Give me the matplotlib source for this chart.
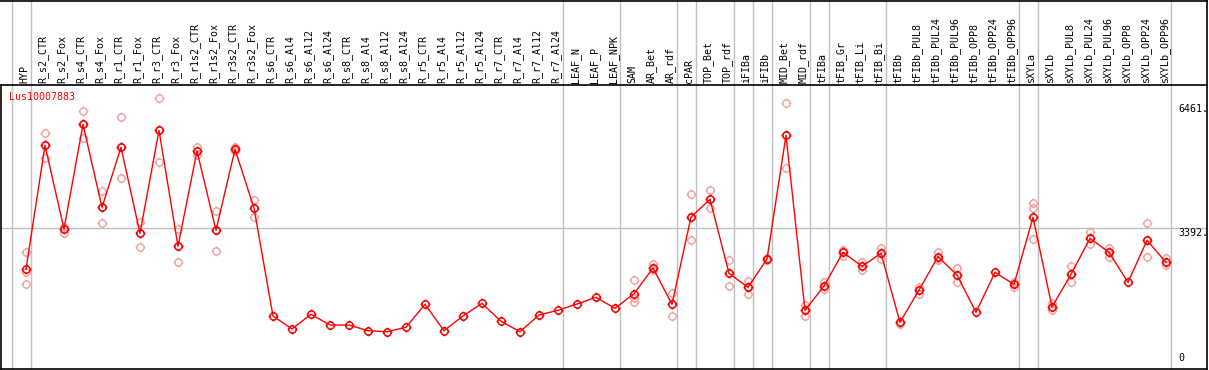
import numpy as np
import matplotlib.pyplot as plt
from matplotlib.path import Path
from matplotlib.transforms import blended_transform_factory

nan = np.nan

gene = "Lus10007883"

samples = ["HYP", "R_s2_CTR", "R_s2_Fox", "R_s4_CTR", "R_s4_Fox", "R_r1_CTR", "R_r1_Fox",
           "R_r3_CTR", "R_r3_Fox", "R_r1s2_CTR", "R_r1s2_Fox", "R_r3s2_CTR", "R_r3s2_Fox",
           "R_s6_CTR", "R_s6_Al4", "R_s6_Al12", "R_s6_Al24", "R_s8_CTR", "R_s8_Al4",
           "R_s8_Al12", "R_s8_Al24", "R_r5_CTR", "R_r5_Al4", "R_r5_Al12", "R_r5_Al24",
           "R_r7_CTR", "R_r7_Al4", "R_r7_Al12", "R_r7_Al24", "LEAF_N", "LEAF_P", "LEAF_NPK",
           "SAM", "AR_Bet", "AR_rdf", "cPAR", "TOP_Bet", "TOP_rdf", "iFIBa", "iFIBb",
           "MID_Bet", "MID_rdf", "tFIBa", "tFIB_Gr", "tFIB_Li", "tFIB_Bi", "tFIBb",
           "tFIBb_PUL8", "tFIBb_PUL24", "tFIBb_PUL96", "tFIBb_OPP8", "tFIBb_OPP24",
           "tFIBb_OPP96", "sXYLa", "sXYLb", "sXYLb_PUL8", "sXYLb_PUL24", "sXYLb_PUL96",
           "sXYLb_OPP8", "sXYLb_OPP24", "sXYLb_OPP96"]

# mean expression
means = [2369, 5438, 3366, 5957, 3903, 5388, 3260, 5809, 2938, 5297, 3334, 5339, 3886,
         1213, 891, 1255, 990, 990, 849, 824, 933, 1502, 849, 1213, 1527, 1082, 824, 1238,
         1354, 1510, 1676, 1403, 1765, 2401, 1502, 3663, 4101, 2270, 1923, 2624, 5685, 1354,
         1955, 2789, 2443, 2765, 1057, 1856, 2680, 2228, 1304, 2294, 1997, 3656, 1436, 2245,
         3136, 2789, 2047, 3086, 2542]

# replicates
rep_a = [2804, 5735, 3423, 6287, 4307, 6131, 3547, 6601, 3366, 5396, 3819, 5396, 4084,
         nan, nan, nan, nan, nan, nan, nan, nan, nan, nan, nan, nan, nan, nan, nan,
         nan, nan, nan, nan, 2104, 2492, 1775, 4225, 4324, 2599, 2086, 2641, 6477, 1485,
         2062, 2846, 2557, 2903, 1064, 1938, 2804, 2401, nan, nan, 2047, 4002, 1527, 2443,
         3299, 2903, nan, 3522, 2641]
rep_b = [2314, 5116, 3274, 5611, 3507, 4621, 2928, 5017, 2542, 5198, 2822, 5297, 3656,
         nan, nan, nan, nan, nan, nan, nan, nan, nan, nan, nan, nan, nan, nan, nan,
         nan, nan, nan, nan, 1651, 2344, 1213, 3086, 3878, 1955, 1757, 2599, 4868, 1220,
         1881, 2705, 2351, 2616, 1015, 1757, 2599, 2062, nan, nan, 1931, 3893, 1354, 2047,
         2995, 2666, nan, 2666, 2475]
rep_c = [1997, 5438, 3366, 5965, 3911, 5405, 3267, 5816, 2945, 5297, 3341, 5339, 3886,
         nan, nan, nan, nan, nan, nan, nan, nan, nan, nan, nan, nan, nan, nan, nan,
         nan, nan, nan, nan, 1567, 2401, 1510, 3663, 4108, 2277, 1931, 2624, 5693, 1361,
         1955, 2797, 2450, 2772, 1064, 1856, 2640, 2228, nan, nan, 2005, 3111, 1436, 2252,
         3143, 2797, nan, 3094, 2549]

# last sample of each group (-1 = frame start)
group_ends = [-1, 0, 28, 31, 34, 35, 37, 38, 39, 41, 42, 45, 52, 53, 60]

ytick_vals = [0, 3392, 6461]
ytick_text = ["0", "3392.", "6461."]

W, H = 1209, 370
RED = "#ff0000"
PINK = "#f0a0a0"
GRAY = "#c0c0c0"
mono = "DejaVu Sans Mono"

# circle with four small ticks
tick_len = 1.35
marker_path = Path.make_compound_path(
    Path.unit_circle(),
    Path([(0, 1), (0, tick_len)]), Path([(0, -1), (0, -tick_len)]),
    Path([(1, 0), (tick_len, 0)]), Path([(-1, 0), (-tick_len, 0)]))

fig = plt.figure(figsize=(W / 100, H / 100), dpi=100)
ax = fig.add_axes([1 / W, 1 / H, 1206 / W, 284 / H])

px = 6461 / 261.0
ax.set_xlim((1 - 26) / 19.0, (1207 - 26) / 19.0)
ax.set_ylim(-4 * px, 280 * px)
ax.set_xticks([])
ax.set_yticks([])
for s in ax.spines.values():
    s.set_linewidth(1.2)
    s.set_color("black")

x = np.arange(len(samples))
blend = blended_transform_factory(ax.transData, fig.transFigure)

for e in group_ends:
    ax.plot([e + 0.25, e + 0.25], [0, 1], transform=blend, color=GRAY, lw=1.0,
            clip_on=False, zorder=1)
ax.axhline(ytick_vals[1], color=GRAY, lw=1.0, zorder=1)

for reps in (rep_a, rep_b, rep_c):
    ax.plot(x, reps, ls="none", marker=marker_path, ms=7, mfc="none", mec=PINK,
            mew=1.0, zorder=2)

ax.plot(x, means, color=RED, lw=1.0, marker=marker_path, ms=7, mfc="none", mec=RED,
        mew=1.1, zorder=3)

ax.text((9 - 26) / 19.0, 1 - 97 / H, gene, transform=blend, color=RED, fontsize=7.2,
        family=mono, ha="left", va="center")

for v, t in zip(ytick_vals, ytick_text):
    va = "bottom" if v == 0 else "top"
    ax.text((1178 - 26) / 19.0, v + (2 * px if v == 0 else 0), t, color="black",
            fontsize=7.2, family=mono, ha="left", va=va, zorder=4)

for i, s in enumerate(samples):
    ax.text(i - 0.1, 1 - 83 / H, s, transform=blend, rotation=90, ha="center",
            va="bottom", fontsize=7.2, family=mono, color="black")

# header frame
fig.add_artist(plt.Line2D([0, 1207 / W], [1 - 0.6 / H, 1 - 0.6 / H], color="black", lw=1.2))
fig.add_artist(plt.Line2D([1206.5 / W, 1206.5 / W], [1, 285 / H], color="black", lw=1.2))

fig.savefig("out.png", dpi=100)
